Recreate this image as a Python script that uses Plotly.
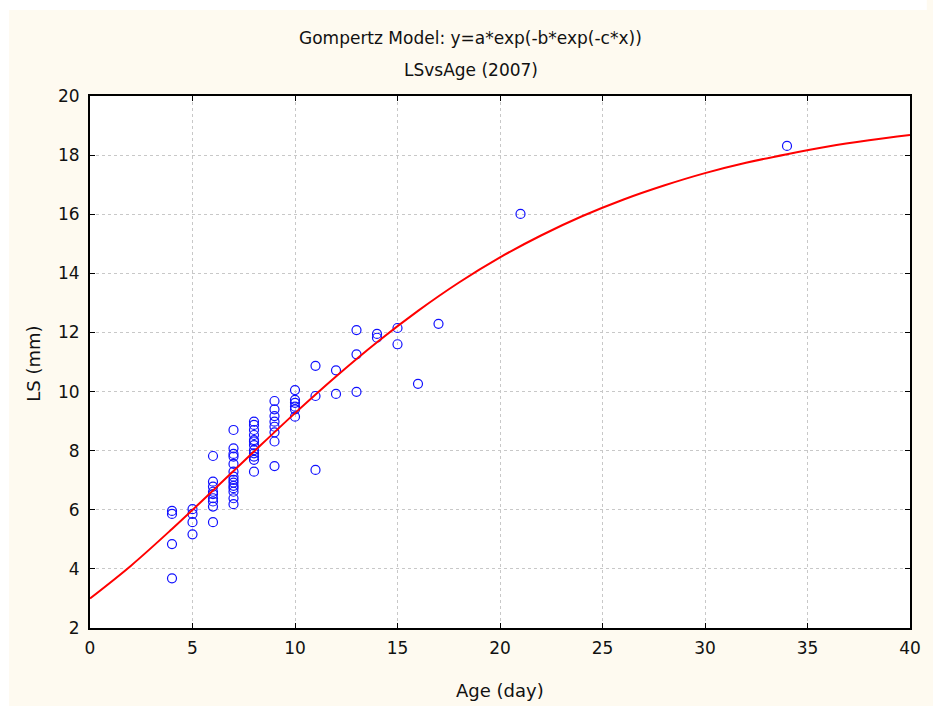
import plotly.graph_objects as go

# Observed data (Age in days, LS in mm)
ages = [4, 4, 4, 4,
        5, 5, 5, 5,
        6, 6, 6, 6, 6, 6, 6, 6, 6,
        7, 7, 7, 7, 7, 7, 7, 7, 7, 7, 7, 7, 7, 7,
        8, 8, 8, 8, 8, 8, 8, 8, 8, 8, 8, 8,
        9, 9, 9, 9, 9, 9, 9, 9,
        10, 10, 10, 10, 10, 10,
        11, 11, 11,
        12, 12,
        13, 13, 13,
        14, 14,
        15, 15,
        16, 17, 21, 34]
ls_mm = [5.96, 5.86, 4.84, 3.68,
         6.02, 5.86, 5.58, 5.17,
         7.82, 6.95, 6.78, 6.61, 6.53, 6.39, 6.28, 6.11, 5.58,
         8.70, 8.08, 7.89, 7.80, 7.55, 7.29, 7.12, 7.01, 6.92, 6.81, 6.73, 6.61, 6.39, 6.19,
         8.98, 8.87, 8.70, 8.53, 8.36, 8.31, 8.19, 8.02, 7.91, 7.80, 7.69, 7.29,
         9.68, 9.40, 9.17, 8.98, 8.81, 8.62, 8.31, 7.48,
         10.05, 9.72, 9.62, 9.49, 9.40, 9.15,
         10.87, 9.85, 7.35,
         10.72, 9.92,
         12.08, 11.26, 9.99,
         11.95, 11.82,
         12.15, 11.60,
         10.26, 12.29, 16.01, 18.31]

# Fitted curve values
curve_x = [0, 2, 4, 6, 8, 10, 12, 14, 16, 18, 20, 22, 24, 26, 28, 30, 32, 34, 36, 38, 40]
curve_y = [3.00, 4.11, 5.35, 6.65, 7.97, 9.27, 10.51, 11.67, 12.73, 13.69, 14.54,
           15.28, 15.93, 16.49, 16.97, 17.39, 17.74, 18.03, 18.29, 18.50, 18.68]

x_ticks = [0, 5, 10, 15, 20, 25, 30, 35, 40]
y_ticks = [2, 4, 6, 8, 10, 12, 14, 16, 18, 20]

title1 = "Gompertz Model: y=a*exp(-b*exp(-c*x))"
title2 = "LSvsAge (2007)"

FONT = "DejaVu Sans, Verdana, sans-serif"
CREAM = "#FEFAF0"

fig = go.Figure()
fig.add_trace(go.Scatter(x=ages, y=ls_mm, mode="markers",
                         marker=dict(symbol="circle-open", size=9, color="#1010FF",
                                     line=dict(width=1.2, color="#1010FF")),
                         showlegend=False, cliponaxis=False))
fig.add_trace(go.Scatter(x=curve_x, y=curve_y, mode="lines", line_shape="spline",
                         line=dict(color="#FF0000", width=2), showlegend=False))

L, R, T, B = 90, 12, 96, 78
W, H = 933, 706
pw, ph = W - L - R, H - T - B

def px2x(px):
    return (px - L) / pw

def py2y(py):
    return (H - B - py) / ph

axis_common = dict(showline=True, linecolor="black", linewidth=2, mirror="ticks",
                   ticks="inside", ticklen=5, tickwidth=1, tickcolor="black",
                   showgrid=True, gridcolor="#C8C8C8", griddash="dot", gridwidth=1,
                   zeroline=False, tickfont=dict(family=FONT, size=17, color="#111111"))

fig.update_xaxes(range=[0, 40], tickvals=x_ticks, ticklabelstandoff=4, **axis_common)
fig.update_yaxes(range=[2, 20], tickvals=y_ticks, ticklabelstandoff=5, **axis_common)

fig.update_layout(
    width=W, height=H, autosize=False,
    margin=dict(l=L, r=R, t=T, b=B),
    paper_bgcolor=CREAM, plot_bgcolor="white",
    font=dict(family=FONT, color="#111111"),
    shapes=[
        dict(type="rect", xref="paper", yref="paper", x0=px2x(-5), x1=px2x(8),
             y0=py2y(H + 5), y1=py2y(-5), fillcolor="white", line=dict(width=0), layer="below"),
        dict(type="rect", xref="paper", yref="paper", x0=px2x(-5), x1=px2x(W + 5),
             y0=py2y(10), y1=py2y(-5), fillcolor="white", line=dict(width=0), layer="below"),
    ],
    annotations=[
        dict(text=title1, xref="paper", yref="paper", x=px2x(476), y=py2y(38),
             showarrow=False, font=dict(size=17, family=FONT), xanchor="center", yanchor="middle"),
        dict(text=title2, xref="paper", yref="paper", x=px2x(476), y=py2y(70),
             showarrow=False, font=dict(size=17, family=FONT), xanchor="center", yanchor="middle"),
        dict(text="Age (day)", xref="paper", yref="paper", x=px2x(506), y=py2y(690),
             showarrow=False, font=dict(size=18, family=FONT), xanchor="center", yanchor="middle"),
        dict(text="LS (mm)", xref="paper", yref="paper", x=px2x(32), y=py2y(364),
             showarrow=False, textangle=-90, font=dict(size=18, family=FONT),
             xanchor="center", yanchor="middle"),
    ],
)

fig.write_html("out.html")
